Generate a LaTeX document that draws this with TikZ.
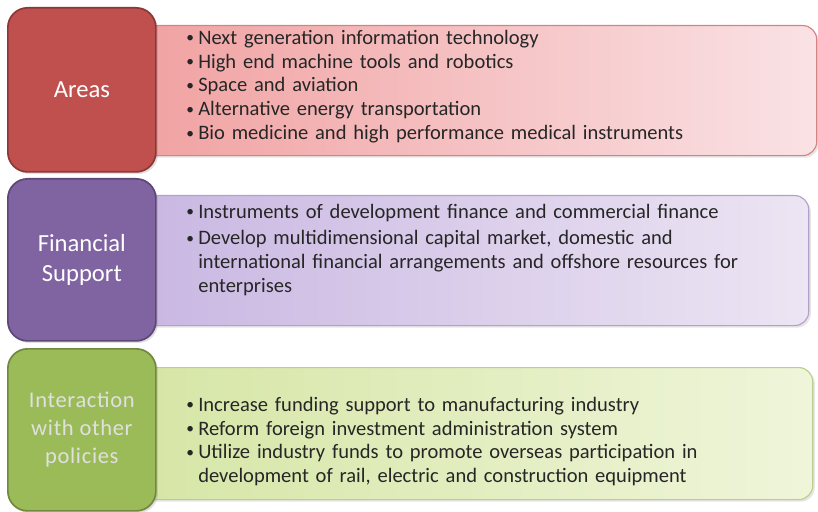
\documentclass[tikz,border=0pt]{standalone}
\usepackage{fontspec}
\setmainfont{Carlito}
\usetikzlibrary{positioning,shadows}
\definecolor{areas-red}{RGB}{192,80,77}
\definecolor{areas-line}{RGB}{140,56,54}
\definecolor{areas-l}{RGB}{241,162,162}
\definecolor{areas-r}{RGB}{250,226,229}
\definecolor{fin-purple}{RGB}{128,100,162}
\definecolor{fin-line}{RGB}{92,71,118}
\definecolor{fin-l}{RGB}{201,183,226}
\definecolor{fin-r}{RGB}{236,229,243}
\definecolor{int-green}{RGB}{155,187,89}
\definecolor{int-line}{RGB}{113,137,63}
\definecolor{int-l}{RGB}{214,230,166}
\definecolor{int-r}{RGB}{239,245,218}
\definecolor{body-text}{RGB}{38,38,38}

\begin{document}
\begin{tikzpicture}[
    x=0.025cm, y=-0.025cm,
    head/.style = {rectangle, rounded corners=14pt, line width=1.2pt,
                   minimum width=3.7cm, align=center, inner sep=0pt,
                   font=\fontsize{17.5}{21}\selectfont, text=white,
                   drop shadow={opacity=0.25, shadow xshift=1.5pt, shadow yshift=-1.5pt}},
    panel/.style = {rectangle, rounded corners=10pt, line width=0.8pt,
                    minimum width=16.9cm, inner sep=0pt,
                    drop shadow={opacity=0.2, shadow xshift=1.5pt, shadow yshift=-1.5pt}},
    points/.style = {text width=15cm, align=left, inner sep=0pt, anchor=north west,
                     font=\fontsize{14.6}{17}\selectfont, text=body-text},
  ]
    \useasboundingbox (0,0) rectangle (818,512);
    \newcommand{\pt}{\par\noindent\hangindent=0.3cm\hangafter=1%
      \makebox[0.3cm][l]{\raisebox{0.15ex}{\fontsize{11}{11}\selectfont\textbullet}}}

    %% ---- Areas ----
    \node[panel, draw=areas-red!70, left color=areas-l, right color=areas-r,
          minimum height=3.25cm, anchor=north west] (areasbox) at (140,25) {};
    \node[points] (areastext) at (186,20)
      {\pt Next generation information technology
       \pt High end machine tools and robotics
       \pt Space and aviation
       \pt Alternative energy transportation
       \pt Bio medicine and high performance medical instruments\par};
    \node[head, draw=areas-line, fill=areas-red, minimum height=4.1cm,
          anchor=north west] (areas) at (7,7) {Areas};

    %% ---- Financial support ----
    \node[panel, draw=fin-purple!60, left color=fin-l, right color=fin-r,
          minimum width=16.7cm, minimum height=3.25cm, anchor=north west] (finbox) at (140,195) {};
    \node[points] (fintext) at (186,194)
      {\pt Instruments of development finance and commercial finance\par\vspace{2pt}
       \pt Develop multidimensional capital market, domestic and\break
           international financial arrangements and offshore resources for\break
           enterprises\par};
    \node[head, draw=fin-line, fill=fin-purple, minimum height=4.05cm,
          anchor=north west] (fin) at (7,178) {Financial\\Support};

    %% ---- Interaction with other policies ----
    \node[panel, draw=int-green!70, left color=int-l, right color=int-r,
          minimum width=16.8cm, minimum height=3.3cm, anchor=north west] (intbox) at (140,367) {};
    \node[points] (inttext) at (186,387)
      {\pt Increase funding support to manufacturing industry
       \pt Reform foreign investment administration system
       \pt Utilize industry funds to promote overseas participation in\break
           development of rail, electric and construction equipment\par};
    \node[head, draw=int-line, fill=int-green, minimum height=4.05cm, text=white!88!black,
          font=\addfontfeatures{LetterSpace=3}\fontsize{16}{20}\selectfont,
          anchor=north west] (int) at (7,348) {Interaction\\with other\\policies};

  \end{tikzpicture}
\end{document}
